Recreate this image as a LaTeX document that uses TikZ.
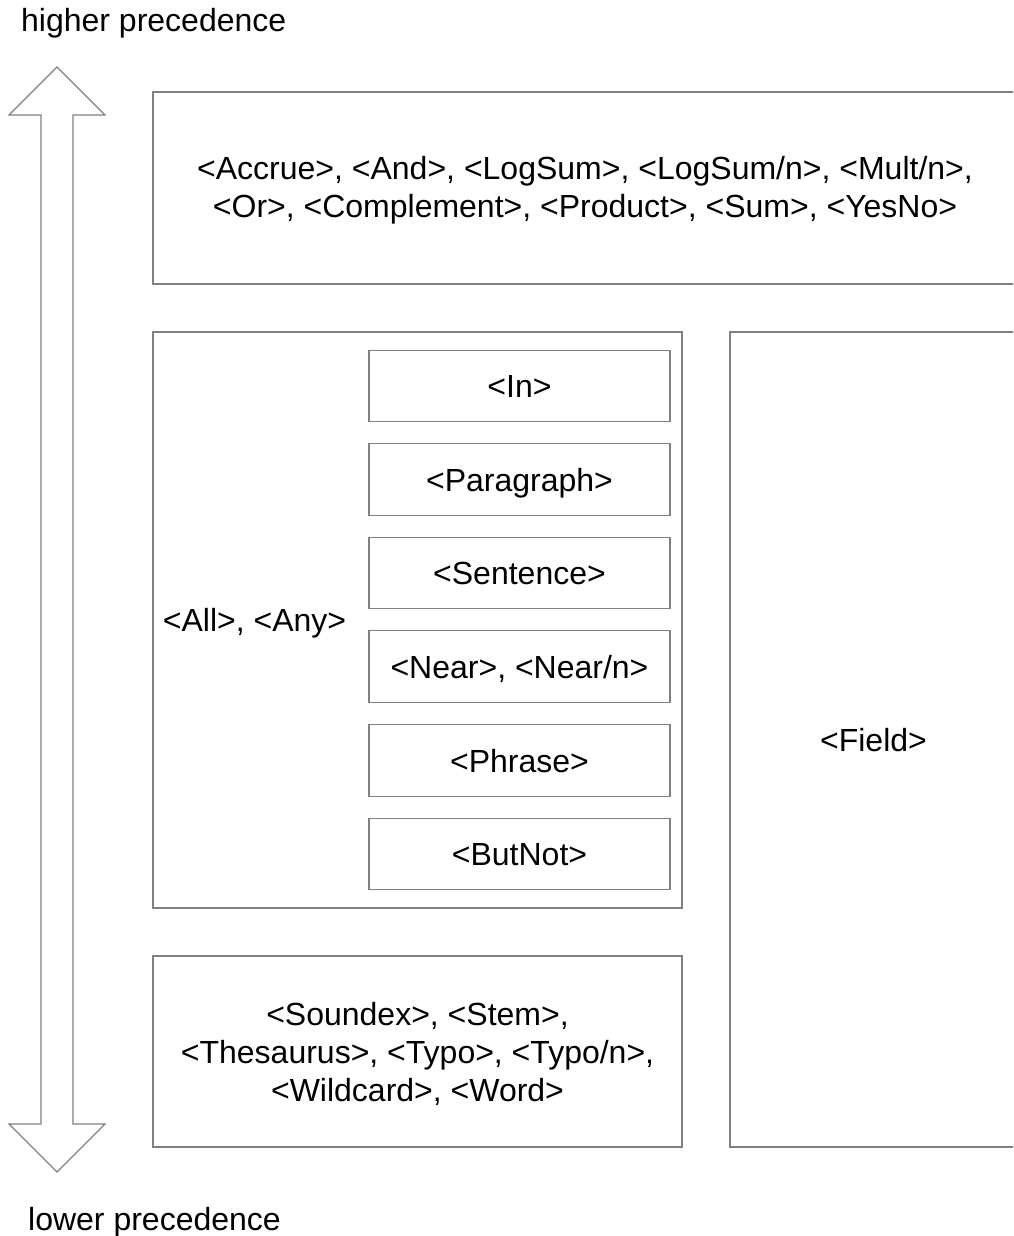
\documentclass[tikz,border=0pt]{standalone}
\usepackage{fontspec}
\setmainfont{Liberation Sans}
\begin{document}
\begin{tikzpicture}[x=1pt,y=-1pt,
  every node/.style={font=\fontsize{32}{38}\selectfont, text=black},
  linegray/.style={draw={rgb,255:red,128;green,128;blue,128}, line width=1.3pt},
  box/.style={linegray, rectangle, inner sep=0pt, align=center},
  onel/.style={text height=23pt, text depth=0pt, inner sep=0pt},
  inbox/.style={box, onel, minimum width=301pt, minimum height=71.5pt}]
\useasboundingbox (0,0) rectangle (1013,1236);
\clip (0,0) rectangle (1013,1236);
% precedence arrow
\draw[linegray, line width=1.1pt, line join=miter]
  (57,67) -- (105,115) -- (73,115) -- (73,1124) -- (105,1124) -- (57,1172)
  -- (9,1124) -- (41,1124) -- (41,115) -- (9,115) -- cycle;
\node[anchor=base west, inner sep=0pt] (hi) at (21,32) {higher precedence};
\node[anchor=base west, inner sep=0pt] (lo) at (28,1230.5) {lower precedence};
% top box
\node[box, minimum width=864pt, minimum height=192pt] (top) at (585,188) {};
\node[align=center, inner sep=0pt] (toptext) at (585,190.5)
  {<Accrue>, <And>, <LogSum>, <LogSum/n>, <Mult/n>,\\
   <Or>, <Complement>, <Product>, <Sum>, <YesNo>};
% middle box
\node[box, minimum width=529pt, minimum height=576pt] (mid) at (417.5,620) {};
\node[onel] (allany) at (254.5,620) {<All>, <Any>};
\node[inbox] (in) at (519.5,386) {<In>};
\node[inbox] (para) at (519.5,479.5) {<Paragraph>};
\node[inbox] (sent) at (519.5,573) {<Sentence>};
\node[inbox] (near) at (519.5,666.5) {<Near>, <Near/n>};
\node[inbox] (phrase) at (519.5,760.5) {<Phrase>};
\node[inbox] (butnot) at (519.5,854) {<ButNot>};
% bottom box
\node[box, minimum width=529pt, minimum height=191pt] (bot) at (417.5,1051.5) {};
\node[align=center, inner sep=0pt] (bottext) at (417.5,1054)
  {<Soundex>, <Stem>,\\ <Thesaurus>, <Typo>, <Typo/n>,\\ <Wildcard>, <Word>};
% field box
\node[box, minimum width=287pt, minimum height=815pt] (field) at (873.5,739.5) {};
\node[onel] (fieldtext) at (873.5,739.5) {<Field>};
\end{tikzpicture}
\end{document}
